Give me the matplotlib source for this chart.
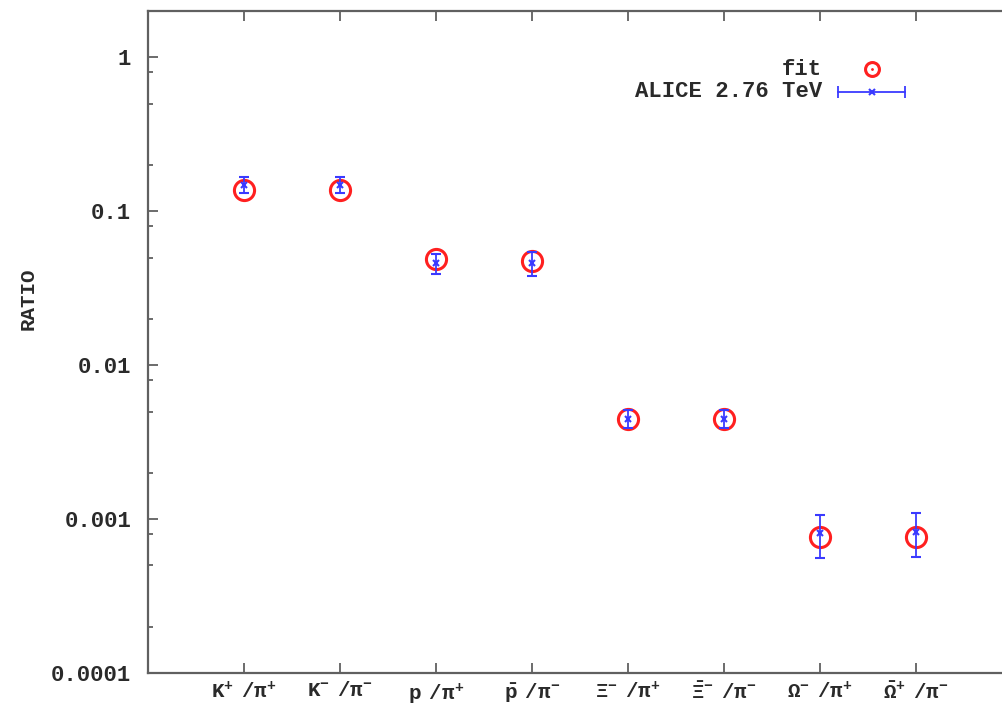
import matplotlib.pyplot as plt

plt.rcParams['font.family'] = ['Liberation Mono', 'DejaVu Sans Mono']
plt.rcParams['font.weight'] = 'bold'
plt.rcParams['mathtext.fontset'] = 'custom'
plt.rcParams['mathtext.rm'] = 'Liberation Mono:bold'
plt.rcParams['mathtext.it'] = 'Liberation Mono:bold'
plt.rcParams['mathtext.bf'] = 'Liberation Mono:bold'

# particle ratios
etiquetas = [r'$\mathrm{K^{+}\ \ /\pi^{+}}$', r'$\mathrm{K^{-}\ \ /\pi^{-}}$',
             r'$\mathrm{p\ \ /\pi^{+}}$', r'$\mathrm{\bar{p}\ \ /\pi^{-}}$',
             r'$\mathrm{\Xi^{-}\ \ /\pi^{+}}$', r'$\mathrm{\bar{\Xi}^{-}\ \ /\pi^{-}}$',
             r'$\mathrm{\Omega^{-}\ \ /\pi^{+}}$', r'$\mathrm{\bar{\Omega}^{+}\ \ /\pi^{-}}$']
x = [1, 2, 3, 4, 5, 6, 7, 8]

# fit values
fit = [0.137, 0.137, 0.0488, 0.0478, 0.00446, 0.00446, 0.00076, 0.00076]

# ALICE 2.76 TeV data
datos = [0.149, 0.149, 0.046, 0.046, 0.0045, 0.0045, 0.00081, 0.00083]
errores = [0.018, 0.018, 0.007, 0.008, 0.0006, 0.0006, 0.00025, 0.00026]

fig = plt.figure(figsize=(10.03, 7.18), dpi=100)
ax = fig.add_axes([148 / 1003, 1 - 673 / 718, 864 / 1003, 662 / 718])

gris = '#606060'
texto = '#2a2a2a'
rojo = '#ff2020'
azul = '#3a3aff'

ax.plot(x, fit, 'o', ms=14.5, mfc='none', mec=rojo, mew=2.2, zorder=2)
ax.errorbar(x, datos, yerr=errores, fmt='x', ms=4, color=azul, mew=1.5,
            elinewidth=1.3, capsize=3.8, capthick=1.3, zorder=3)

ax.set_yscale('log')
ax.set_ylim(1e-4, 2)
ax.set_xlim(0, 9)

ax.set_xticks(x)
ax.set_xticklabels(etiquetas, fontsize=15, color=texto)
ax.set_yticks([1e-4, 1e-3, 1e-2, 1e-1, 1])
ax.set_yticklabels(['0.0001', '0.001', '0.01', '0.1', '1'], fontsize=16, color=texto)
ax.set_yticks([m * 10.0 ** e for e in range(-4, 0) for m in (2, 5, 8)], minor=True)
ax.set_ylabel('RATIO', fontsize=15, color=texto, fontweight='bold')
ax.yaxis.set_label_coords(-0.128, 0.565)

for lado in ax.spines.values():
    lado.set_color(gris)
    lado.set_linewidth(1.6)
ax.tick_params(axis='both', which='major', direction='in', color=gris,
               width=1.3, length=7, top=True)
ax.tick_params(axis='y', which='major', pad=12)
ax.tick_params(axis='x', which='major', pad=6)
ax.tick_params(axis='y', which='minor', direction='in', color=gris,
               width=1.3, length=3.5)
ax.tick_params(axis='x', which='minor', bottom=False, top=False)

# key, gnuplot style
ax.text(0.780, 0.912, 'fit', transform=ax.transAxes, ha='right', va='center',
        fontsize=16, color=texto)
ax.plot([0.838], [0.912], 'o', transform=ax.transAxes, ms=10, mfc='none', mec=rojo, mew=2.2)
ax.plot([0.838], [0.912], '.', transform=ax.transAxes, ms=2, color=rojo)
ax.text(0.780, 0.878, 'ALICE 2.76 TeV', transform=ax.transAxes, ha='right', va='center',
        fontsize=16, color=texto)
ax.plot([0.799, 0.876], [0.878, 0.878], '-', transform=ax.transAxes, color=azul, lw=1.3)
ax.plot([0.799, 0.876], [0.878, 0.878], '|', transform=ax.transAxes, color=azul, ms=8, mew=1.3)
ax.plot([0.838], [0.878], 'x', transform=ax.transAxes, color=azul, ms=4, mew=1.5)

fig.savefig('out.png', dpi=100)
